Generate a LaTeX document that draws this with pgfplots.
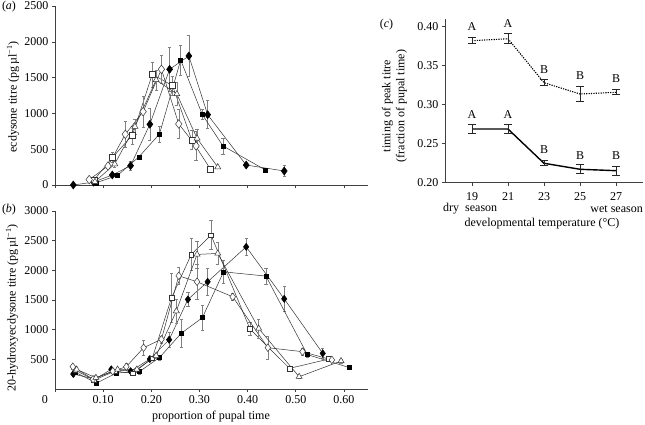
\documentclass[border=0pt]{standalone}
\usepackage{pgfplots}
\pgfplotsset{compat=1.18}
\usepackage{fontspec}
\setmainfont{Liberation Serif}

\pgfplotsset{
  panel/.style={
    scale only axis, axis lines*=left,
    axis line style={-, line width=0.6pt, black!75},
    tick align=outside, tick style={black!75, line width=0.6pt}, major tick length=3pt,
    /pgf/number format/assume math mode=true,
    /pgf/number format/1000 sep={},
    font=\fontsize{12}{14}\selectfont,
    ticklabel style={font=\fontsize{12}{14}\selectfont},
    clip=false,
  },
  ser/.style={line width=0.5pt, black!80,
    error bars/y dir=both, error bars/y explicit,
    error bars/error bar style={black!50, line width=0.5pt},
    error bars/error mark options={rotate=90, mark size=1.6pt, black!50, line width=0.5pt}},
  fd/.style={ser, mark=diamond*, mark size=4pt, mark options={fill=black, draw=black, solid}},
  fs/.style={ser, mark=square*, mark size=2pt, mark options={fill=black, draw=black, solid}},
  os/.style={ser, mark=square*, mark size=3pt, mark options={fill=white, draw=black!80, solid}},
  od/.style={ser, mark=diamond*, mark size=4.3pt, mark options={fill=white, draw=black!80, solid}},
  ot/.style={ser, mark=triangle*, mark size=3.5pt, mark options={fill=white, draw=black!80, solid}},
  cser/.style={black, error bars/y dir=both, error bars/y explicit,
    error bars/error bar style={black!85, line width=1pt, solid},
    error bars/error mark options={rotate=90, mark size=4pt, black!85, line width=1pt, solid}},
}

\begin{document}
\begin{tikzpicture}[x=1pt,y=1pt]
\useasboundingbox (0,0) rectangle (645,424);

% ---------------- panel (a)
\begin{axis}[panel, at={(55pt,239pt)}, anchor=south west, width=313pt, height=179pt,
  xmin=0, xmax=0.65, ymin=0, ymax=2500,
  xtick={0,0.1,0.2,0.3,0.4,0.5,0.6}, xticklabels={},
  ytick={0,500,1000,1500,2000,2500}]
\addplot[fd] coordinates {
 (0.038,0) +- (0,0) (0.080,40) +- (0,10) (0.119,140) +- (0,20) (0.157,270) +- (0,60)
 (0.197,848) +- (0,220) (0.238,1616) +- (0,310) (0.278,1802) +- (0,290)
 (0.317,982) +- (0,195) (0.397,279) +- (0,20) (0.476,196) +- (0,75)};
\addplot[fs] coordinates {
 (0.085,30) +- (0,10) (0.130,135) +- (0,15) (0.174,391) +- (0,30) (0.217,712) +- (0,110)
 (0.261,1746) +- (0,210) (0.306,982) +- (0,70) (0.349,545) +- (0,110) (0.437,210) +- (0,20)};
\addplot[os] coordinates {
 (0.081,70) +- (0,15) (0.119,382) +- (0,70) (0.161,698) +- (0,125) (0.202,1546) +- (0,175)
 (0.244,1388) +- (0,130) (0.284,629) +- (0,130) (0.323,219) +- (0,30)};
\addplot[od] coordinates {
 (0.071,75) +- (0,10) (0.110,265) +- (0,30) (0.146,708) +- (0,185) (0.183,1024) +- (0,220)
 (0.221,1616) +- (0,200) (0.257,852) +- (0,200) (0.293,545) +- (0,200)};
\addplot[ot] coordinates {
 (0.083,46) +- (0,10) (0.124,293) +- (0,40) (0.166,815) +- (0,100) (0.210,1467) +- (0,140)
 (0.253,1271) +- (0,160) (0.295,652) +- (0,125) (0.338,250) +- (0,20)};
\end{axis}

% ---------------- panel (b)
\begin{axis}[panel, at={(55pt,35pt)}, anchor=south west, width=313pt, height=178pt,
  xmin=0, xmax=0.65, ymin=0, ymax=3000,
  xtick={0,0.1,0.2,0.3,0.4,0.5,0.6},
  xticklabels={\makebox[0pt][r]{0\hspace{7pt}},0.10,0.20,0.30,0.40,0.50,0.60},
  ytick={500,1000,1500,2000,2500,3000}]
\addplot[fd, mark size=3.6pt] coordinates {
 (0.038,253) +- (0,30) (0.083,165) +- (0,20) (0.117,332) +- (0,30) (0.157,300) +- (0,40)
 (0.197,505) +- (0,40) (0.237,830) +- (0,130) (0.276,1510) +- (0,120) (0.317,1807) +- (0,225)
 (0.397,2396) +- (0,140) (0.476,1520) +- (0,210) (0.556,601) +- (0,90)};
\addplot[fs] coordinates {
 (0.043,280) +- (0,20) (0.086,100) +- (0,20) (0.128,270) +- (0,30) (0.175,292) +- (0,40)
 (0.217,530) +- (0,40) (0.262,938) +- (0,240) (0.306,1201) +- (0,210) (0.350,1975) +- (0,195)
 (0.438,1903) +- (0,140) (0.524,580) +- (0,40) (0.612,359) +- (0,30)};
\addplot[os, mark size=2.4pt] coordinates {
 (0.042,320) +- (0,30) (0.081,150) +- (0,20) (0.124,300) +- (0,30) (0.162,264) +- (0,40)
 (0.202,520) +- (0,40) (0.242,1538) +- (0,410) (0.283,2268) +- (0,270) (0.324,2593) +- (0,245)
 (0.405,1010) +- (0,110) (0.487,348) +- (0,40) (0.569,505) +- (0,30)};
\addplot[od, mark size=3.8pt] coordinates {
 (0.037,376) +- (0,40) (0.079,165) +- (0,20) (0.120,300) +- (0,30) (0.148,376) +- (0,60)
 (0.184,696) +- (0,130) (0.221,837) +- (0,60) (0.257,1908) +- (0,150) (0.295,1807) +- (0,300)
 (0.369,1554) +- (0,60) (0.442,696) +- (0,190) (0.514,629) +- (0,60) (0.575,490) +- (0,30)};
\addplot[ot] coordinates {
 (0.045,330) +- (0,30) (0.085,190) +- (0,20) (0.130,330) +- (0,30) (0.170,330) +- (0,40)
 (0.210,560) +- (0,50) (0.252,1314) +- (0,200) (0.295,2268) +- (0,230) (0.338,2285) +- (0,180)
 (0.423,1020) +- (0,160) (0.507,207) +- (0,20) (0.594,472) +- (0,30)};
\end{axis}

% ---------------- panel (c)
\begin{axis}[panel, at={(445pt,241.3pt)}, anchor=south west, width=198pt, height=163.8pt,
  xmin=17.5, xmax=28.5, ymin=0.2, ymax=0.41,
  xtick={19,21,23,25,27}, ytick={0.2,0.25,0.3,0.35,0.4},
  xticklabel style={yshift=-3pt},
  yticklabel style={/pgf/number format/.cd, fixed, fixed zerofill, precision=2}]
\addplot[cser, line width=1.1pt, dash pattern=on 1.2pt off 1.2pt] coordinates {
 (19,0.382) +- (0,0.004) (21,0.3846) +- (0,0.0065) (23,0.3282) +- (0,0.0035)
 (25,0.3137) +- (0,0.0094) (27,0.3159) +- (0,0.003)};
\addplot[cser, line width=1.4pt] coordinates {
 (19,0.2688) +- (0,0.0055) (21,0.2688) +- (0,0.0063) (23,0.2249) +- (0,0.003)
 (25,0.2172) +- (0,0.0055) (27,0.2154) +- (0,0.006)};
\node at (axis cs:19,0.400) {A};
\node at (axis cs:21,0.4043) {A};
\node at (axis cs:23,0.3454) {B};
\node at (axis cs:25,0.3368) {B};
\node at (axis cs:27,0.3330) {B};
\node at (axis cs:19,0.2868) {A};
\node at (axis cs:21,0.2868) {A};
\node at (axis cs:23,0.2419) {B};
\node at (axis cs:25,0.2346) {B};
\node at (axis cs:27,0.2342) {B};
\end{axis}

% ---------------- texts
\begin{scope}[every node/.style={font=\fontsize{12}{14}\selectfont, inner sep=0pt}]
\node at (9,417) {(\textit{a})};
\node at (9,214) {(\textit{b})};
\node at (386.5,399) {(\textit{c})};
\node[rotate=90] at (13,327) {ecdysone titre (pg\,µl\textsuperscript{−1})};
\node[rotate=90] at (12,116) {20-hydroxyecdysone titre (pg\,µl\textsuperscript{−1})};
\node at (211,7) {proportion of pupal time};
\node[rotate=90, align=center] at (394.5,318) {timing of peak titre\\(fraction of pupal time)};
\node at (542,200) {developmental temperature (°C)};
\node[anchor=west] at (443,215) {dry\ \ season};
\node[anchor=east] at (643,215) {wet season};
\end{scope}
\end{tikzpicture}
\end{document}
